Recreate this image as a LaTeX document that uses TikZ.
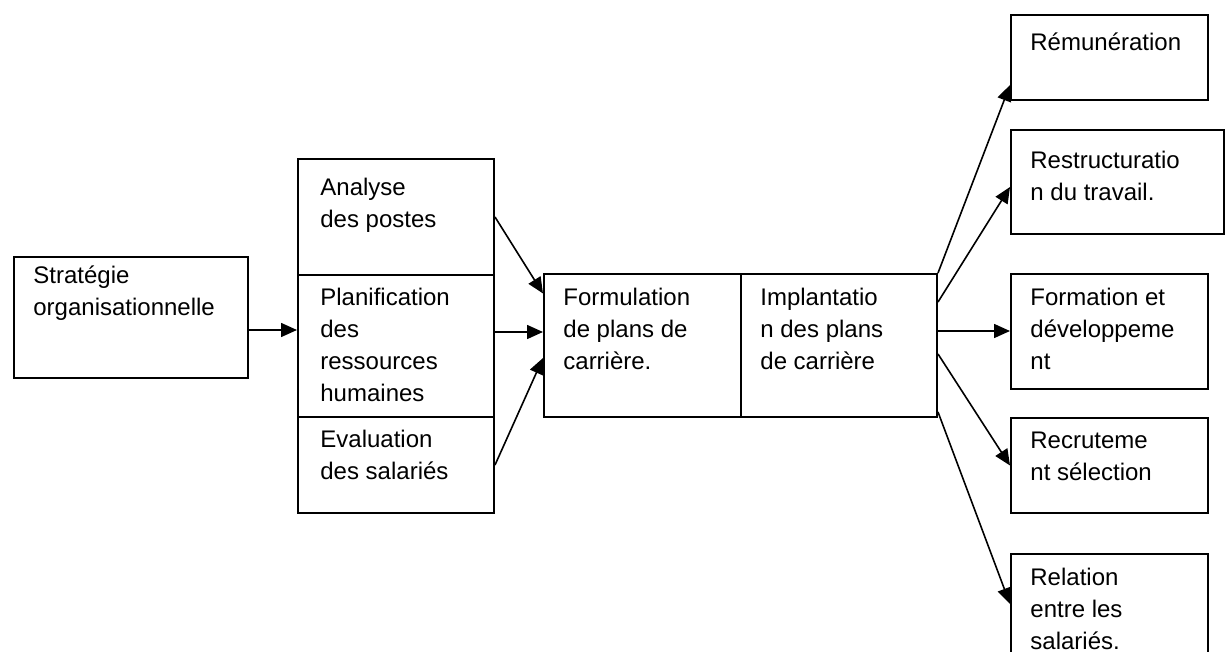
\documentclass[tikz,border=0pt]{standalone}
\usepackage{fontspec}
\setmainfont{Liberation Sans}
\usetikzlibrary{arrows.meta}

\begin{document}
\begin{tikzpicture}[x=0.5pt, y=-0.5pt,
		box/.style={draw, line width=1pt, inner sep=0pt, anchor=north west},
		txt/.style={anchor=north west, inner sep=0pt, align=left,
			font=\fontsize{12}{16}\selectfont, execute at begin node=\strut},
		arr/.style={line width=0.8pt, -{Triangle[length=8pt, width=7pt]}}]
			\def\cw{98pt}
			\def\rw{98.5pt}
			\useasboundingbox (0,0) rectangle (1225,652);
			\clip (0,0) rectangle (1225,652);

			% Strategy (left)
			\node[box, minimum width=117pt, minimum height=60.5pt] (strat) at (13,256) {};

			% Column of three inputs
			\node[box, minimum width=\cw, minimum height=58pt] (ana) at (297,158) {};
			\node[box, minimum width=\cw, minimum height=71pt] (plan) at (297,274) {};
			\node[box, minimum width=\cw, minimum height=48pt] (eval) at (297,416) {};

			% Career plans: formulation | implementation
			\node[box, minimum width=98.5pt, minimum height=71.5pt] (form) at (543,273) {};
			\node[box, minimum width=98pt, minimum height=71.5pt] (impl) at (740,273) {};

			% Outputs (right)
			\node[box, minimum width=\rw, minimum height=42.5pt] (rem) at (1010,14) {};
			\node[box, minimum width=106.5pt, minimum height=52pt] (restr) at (1010,129) {};
			\node[box, minimum width=\rw, minimum height=57.5pt] (fordev) at (1010,273) {};
			\node[box, minimum width=\rw, minimum height=47.5pt] (recr) at (1010,417) {};
			\node[box, minimum width=\rw, minimum height=60pt] (rel) at (1010,553) {};

			% Texts
			\node[txt] (stratT) at (33,265.5) {Stratégie\\organisationnelle};
			\node[txt] (anaT) at (320,177.5) {Analyse\\des postes};
			\node[txt] (planT) at (320,288) {Planification\\des\\ressources\\humaines};
			\node[txt] (evalT) at (320,430) {Evaluation\\des salariés};
			\node[txt] (formT) at (563,288) {Formulation\\de plans de\\carrière.};
			\node[txt] (implT) at (760,288) {Implantatio\\n des plans\\de carrière};
			\node[txt] (remT) at (1030,28) {Rémunération};
			\node[txt] (restrT) at (1030,150.5) {Restructuratio\\n du travail.};
			\node[txt] (fordevT) at (1030,288) {Formation et\\développeme\\nt};
			\node[txt] (recrT) at (1030,432) {Recruteme\\nt sélection};
			\node[txt] (relT) at (1030,568) {Relation\\entre les\\salariés.};

			% Arrows in
			\draw[arr] ([yshift=-6.25pt]strat.east) -- ([yshift=-6.25pt]strat.east -| plan.west);
			\draw[arr] (ana.east) -- ([yshift=26pt]form.west);
			\draw[arr] ([yshift=7pt]plan.east) -- ([yshift=7pt]plan.east -| form.west);
			\draw[arr] (eval.east) -- ([yshift=-6.25pt]form.west);

			% Arrows out
			\draw[arr] (impl.north east) -- ([yshift=8pt]rem.south west);
			\draw[arr] ([yshift=-14.5pt]impl.north east) -- ([yshift=-2.5pt]restr.west);
			\draw[arr] ([yshift=7.25pt]impl.east) -- ([yshift=7.25pt]impl.east -| fordev.west);
			\draw[arr] ([yshift=-4.25pt]impl.east) -- (recr.west);
			\draw[arr] ([yshift=3pt]impl.south east) -- ([yshift=5pt]rel.west);

		\end{tikzpicture}
\end{document}
